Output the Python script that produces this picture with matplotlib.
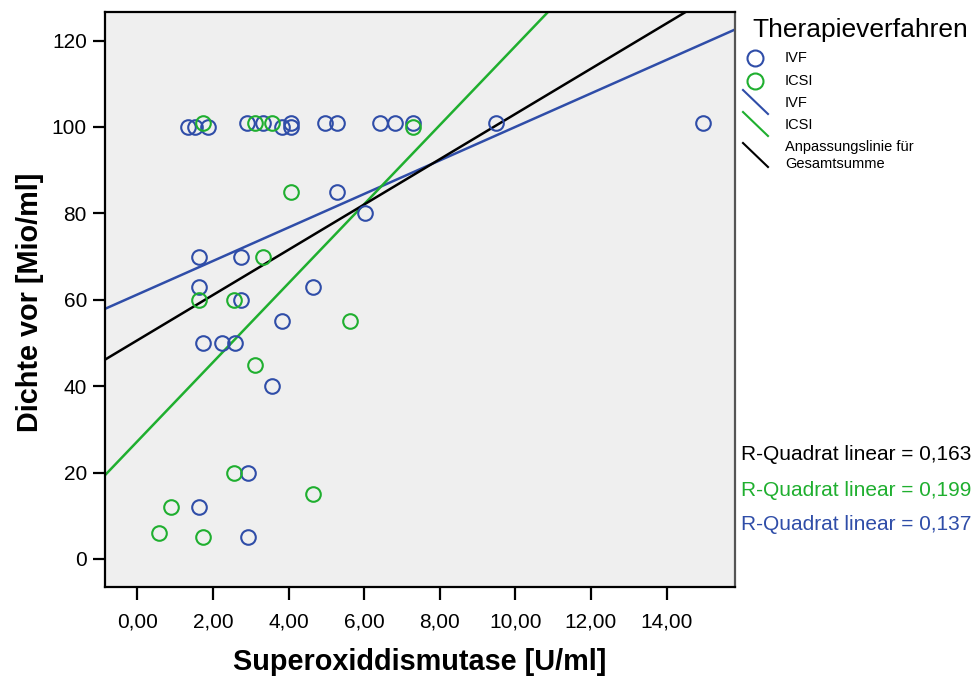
import matplotlib
matplotlib.use("Agg")
import matplotlib.pyplot as plt
from matplotlib.lines import Line2D
import numpy as np

plt.rcParams['font.family'] = ['Liberation Sans', 'DejaVu Sans']

# ---- data ----
ivf_x = [1.34, 1.53, 1.87, 2.90, 3.32, 3.83, 4.06, 4.06, 4.96, 5.28, 6.42, 6.82, 7.30,
         9.49, 14.96,
         1.64, 2.74, 1.64, 2.74, 4.65, 5.28, 6.02, 3.83, 1.74, 2.24, 2.58, 3.56,
         2.93, 1.64, 2.93]
ivf_y = [100, 100, 100, 101, 101, 100, 101, 100, 101, 101, 101, 101, 101,
         101, 101,
         70, 70, 63, 60, 63, 85, 80, 55, 50, 50, 50, 40,
         20, 12, 5]
icsi_x = [1.74, 3.11, 3.56, 7.30,
          3.32, 1.64, 2.56, 4.06, 5.63, 3.11, 2.56, 4.65, 0.89, 0.57, 1.74]
icsi_y = [101, 101, 101, 100,
          70, 60, 60, 85, 55, 45, 20, 15, 12, 6, 5]

# fitted lines (intercept, slope)
fit_ivf = (61.2, 3.88)
fit_icsi = (27.2, 9.15)
fit_total = (50.6, 5.24)
r2_labels = ["R-Quadrat linear = 0,163", "R-Quadrat linear = 0,199", "R-Quadrat linear = 0,137"]

xticks = [0, 2, 4, 6, 8, 10, 12, 14]
yticks = [0, 20, 40, 60, 80, 100, 120]
xlim = (-0.854, 15.81)
ylim = (-6.5, 126.6)

blue = '#2F4DA8'
green = '#1FAF2F'
black = '#000000'

fig = plt.figure(figsize=(9.75, 6.79), dpi=100)
W, H = 975, 679
ax = fig.add_axes([105 / W, 1 - 587 / H, (735 - 105) / W, (587 - 12) / H])
ax.set_facecolor('#EFEFEF')
ax.set_xlim(*xlim)
ax.set_ylim(*ylim)

xs = np.array(xlim)
for (b0, b1), c in [(fit_ivf, blue), (fit_icsi, green), (fit_total, black)]:
    ax.plot(xs, b0 + b1 * xs, color=c, lw=1.8, zorder=2)

ax.plot(ivf_x, ivf_y, 'o', mfc='none', mec=blue, ms=10.5, mew=1.5, zorder=3)
ax.plot(icsi_x, icsi_y, 'o', mfc='none', mec=green, ms=10.5, mew=1.5, zorder=3)

ax.set_xticks(xticks)
ax.set_xticklabels([f"{v:.2f}".replace('.', ',') for v in xticks], fontsize=15)
ax.set_yticks(yticks)
ax.set_yticklabels([str(v) for v in yticks], fontsize=15)
ax.tick_params(axis='x', direction='out', length=9, width=1.6, pad=9)
ax.tick_params(axis='y', direction='out', length=9, width=1.6, pad=4)
for s in ax.spines.values():
    s.set_linewidth(1.6)
    s.set_color('black')
ax.spines['right'].set_color('#555555')

fig.text(420 / W, 1 - 662 / H, "Superoxiddismutase [U/ml]", fontsize=20.8,
         fontweight='bold', ha='center', va='center')
fig.text(30 / W, 1 - 302 / H, "Dichte vor [Mio/ml]", fontsize=20.8,
         fontweight='bold', ha='center', va='center', rotation=90)

# legend (manual)
def fx(px):
    return px / W

def fy(py):
    return 1 - py / H

fig.text(fx(752), fy(30), "Therapieverfahren", fontsize=19, ha='left', va='center')
for py, c in [(58, blue), (81, green)]:
    fig.add_artist(Line2D([fx(755)], [fy(py)], marker='o', mfc='none', mec=c, ms=11.5, mew=1.5,
                          transform=fig.transFigure))
for py0, c in [(90, blue), (112, green), (143, black)]:
    fig.add_artist(Line2D([fx(743), fx(768)], [fy(py0), fy(py0 + 24)], color=c, lw=1.5,
                          transform=fig.transFigure))
for py, t in [(58, "IVF"), (81, "ICSI"), (103, "IVF"), (125, "ICSI"),
              (147, "Anpassungslinie für"), (164, "Gesamtsumme")]:
    fig.text(fx(785), fy(py), t, fontsize=10.5, ha='left', va='center')

for py, t, c in [(455, r2_labels[0], black), (490, r2_labels[1], green), (524, r2_labels[2], blue)]:
    fig.text(fx(741), fy(py), t, fontsize=15, color=c, ha='left', va='center')

fig.savefig("out.png", dpi=100)
